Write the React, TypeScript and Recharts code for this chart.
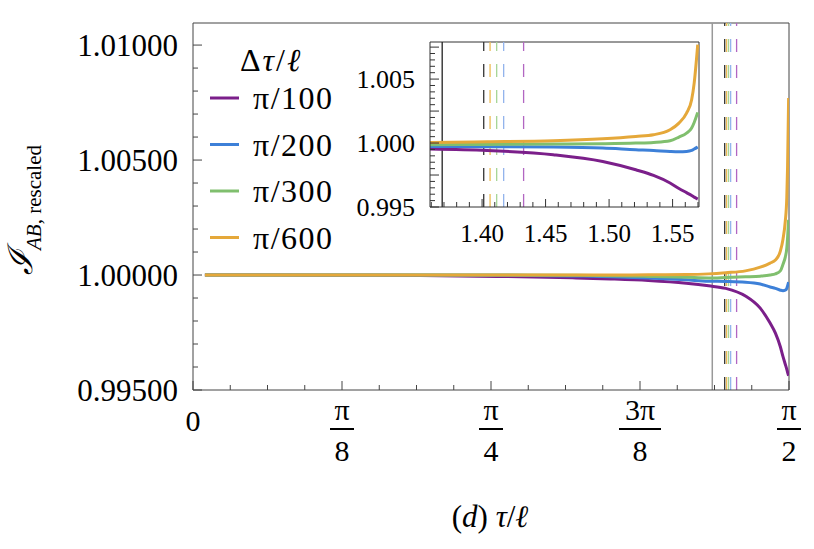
import React from "react";
import { LineChart, Line, XAxis, YAxis, ReferenceLine, Legend, Label } from "recharts";

const SERIF = "'Liberation Serif', 'DejaVu Serif', serif";

// sample points of tau/l
const tau = [0.0314, 0.2, 0.4, 0.6, 0.8, 1.0, 1.1, 1.2, 1.3, 1.359, 1.404, 1.456, 1.495, 1.521, 1.535, 1.548, 1.555, 1.561, 1.565, 1.567, 1.5698];
const pi100 = [1.0, 1.0, 0.99999, 0.99998, 0.99994, 0.99988, 0.99983, 0.99976, 0.99964, 0.99953, 0.99942, 0.99909, 0.99856, 0.99791, 0.99747, 0.99688, 0.99645, 0.99612, 0.9959, 0.99577, 0.99562];
const pi200 = [1.0, 1.0, 1.0, 1.0, 0.99999, 0.99996, 0.99993, 0.99987, 0.99979, 0.99973, 0.99972, 0.99969, 0.99961, 0.99948, 0.99942, 0.99934, 0.99932, 0.99934, 0.99942, 0.99953, 0.99969];
const pi300 = [1.0, 1.0, 1.0, 1.0, 1.0, 0.99999, 0.99997, 0.99994, 0.9999, 0.99987, 0.99989, 0.99992, 0.99995, 1.0, 1.00005, 1.00018, 1.00047, 1.00078, 1.00117, 1.00161, 1.0024];
const pi600 = [1.0, 1.0, 1.0, 1.0, 1.0, 1.0, 1.0, 1.00001, 1.00002, 1.00005, 1.0001, 1.00018, 1.00034, 1.00052, 1.00065, 1.00104, 1.00156, 1.00234, 1.00338, 1.00469, 1.0077];

const seriesKeys = ["s100", "s200", "s300", "s600"];
const seriesNames = ["π/100", "π/200", "π/300", "π/600"];
const seriesColors = ["#7b1f8a", "#3d80d8", "#80bf6e", "#e5a83a"];

// dashed vertical markers
const markerTau = [1.4013, 1.4063, 1.4115, 1.417, 1.4327];
const markerColors = ["#333333", "#ecbc55", "#a6d596", "#93b4ec", "#b266c2"];

const insetStart = 1.359;
const insetAxisTau = 1.3686;
const TAU_MAX = Math.PI / 2;
const MAIN_Y_TOP = 1.01096;
const INSET_Y_TOP = 1.0079;

const xFractions = [
  { num: "0", den: "" },
  { num: "π", den: "8" },
  { num: "π", den: "4" },
  { num: "3π", den: "8" },
  { num: "π", den: "2" },
];

const data = tau.map((t, i) => ({ tau: t, s100: pi100[i], s200: pi200[i], s300: pi300[i], s600: pi600[i] }));
const insetData = data.filter((d) => d.tau >= insetStart);

const mainXTicks = Array.from({ length: 17 }, (_, k) => (k * Math.PI) / 32);
const mainYTicks = Array.from({ length: 16 }, (_, k) => +(0.995 + k * 0.001).toFixed(3));
const insetXTicks = Array.from({ length: 22 }, (_, k) => (136 + k) / 100);
const insetYTicks = Array.from({ length: 26 }, (_, k) => +(0.995 + k * 0.0005).toFixed(4));

const MainXTick = (props: any) => {
  const { x, y, payload } = props;
  const k = Math.round(payload.value / (Math.PI / 32));
  const major = k % 4 === 0;
  const f = major ? xFractions[k / 4] : null;
  return (
    <g>
      <line x1={x} x2={x} y1={y} y2={y - (major ? 9 : 5)} stroke="#444" />
      {f && f.den === "" && (
        <text x={x} y={y + 41} textAnchor="middle" fontSize={30} fontFamily={SERIF}>{f.num}</text>
      )}
      {f && f.den !== "" && (
        <g>
          <text x={x} y={y + 30} textAnchor="middle" fontSize={30} fontFamily={SERIF}>{f.num}</text>
          <line x1={x - (f.num.length > 1 ? 21 : 12)} x2={x + (f.num.length > 1 ? 21 : 12)} y1={y + 39} y2={y + 39} stroke="#000" strokeWidth={2} />
          <text x={x} y={y + 71} textAnchor="middle" fontSize={30} fontFamily={SERIF}>{f.den}</text>
        </g>
      )}
    </g>
  );
};

const MainYTick = (props: any) => {
  const { x, y, payload } = props;
  const k = Math.round((payload.value - 0.995) / 0.001);
  const major = k % 5 === 0;
  return (
    <g>
      <line x1={x} x2={x + (major ? 9 : 5)} y1={y} y2={y} stroke="#444" />
      {major && (
        <text x={x - 15} y={y} dy="0.36em" textAnchor="end" fontSize={31} fontFamily={SERIF}>
          {payload.value.toFixed(5)}
        </text>
      )}
    </g>
  );
};

const InsetXTick = (props: any) => {
  const { x, y, payload } = props;
  const k = Math.round(payload.value * 100);
  const major = k % 5 === 0;
  return (
    <g>
      <line x1={x} x2={x} y1={y} y2={y - (major ? 8 : 5)} stroke="#333" />
      {major && (
        <text x={x} y={y + 35} textAnchor="middle" fontSize={25} fontFamily={SERIF}>
          {payload.value.toFixed(2)}
        </text>
      )}
    </g>
  );
};

const InsetYTick = (props: any) => {
  const { x, y, payload } = props;
  const k = Math.round((payload.value - 0.995) / 0.0005);
  const major = k % 5 === 0;
  return (
    <g>
      <line x1={x} x2={x + (major ? 9 : 5)} y1={y} y2={y} stroke="#333" />
      {k % 10 === 0 && (
        <text x={x - 15} y={y} dy="0.36em" textAnchor="end" fontSize={26} fontFamily={SERIF}>
          {payload.value.toFixed(3)}
        </text>
      )}
    </g>
  );
};

const LegendBox = () => (
  <svg width={150} height={230} style={{ display: "block" }}>
    <text x={40} y={36} fontSize={32} fontFamily={SERIF} letterSpacing={2}>
      Δ<tspan fontStyle="italic">τ</tspan>/<tspan fontStyle="italic">ℓ</tspan>
    </text>
    {seriesNames.map((n, i) => (
      <g key={n}>
        <line x1={10} x2={39} y1={63 + i * 46.5} y2={63 + i * 46.5} stroke={seriesColors[i]} strokeWidth={3} />
        <text x={53} y={74 + i * 46.5} fontSize={32} fontFamily={SERIF} letterSpacing={1.5}>{n}</text>
      </g>
    ))}
  </svg>
);

export default function App() {
  return (
    <div style={{ position: "absolute", left: 0, top: 0, width: 814, height: 549, background: "#fff" }}>
      <LineChart width={814} height={549} data={data} margin={{ top: 23, right: 25, bottom: 158, left: 192 }}>
        <XAxis
          dataKey="tau"
          type="number"
          domain={[0, TAU_MAX]}
          ticks={mainXTicks}
          interval={0}
          height={1}
          tickSize={0}
          tickMargin={0}
          tickLine={false}
          tick={<MainXTick />}
          axisLine={{ stroke: "#444" }}
          allowDataOverflow
        >
          <Label
            content={() => (
              <text x={490} y={527} textAnchor="middle" fontSize={31} fontFamily={SERIF}>
                (<tspan fontStyle="italic">d</tspan>) <tspan fontStyle="italic">τ</tspan>/<tspan fontStyle="italic">ℓ</tspan>
              </text>
            )}
          />
        </XAxis>
        <YAxis
          type="number"
          domain={[0.995, MAIN_Y_TOP]}
          ticks={mainYTicks}
          interval={0}
          width={1}
          tickSize={0}
          tickMargin={0}
          tickLine={false}
          tick={<MainYTick />}
          axisLine={{ stroke: "#444" }}
          allowDataOverflow
        >
          <Label
            content={() => (
              <text transform="translate(32,210) rotate(-90)" textAnchor="middle" fontFamily={SERIF}>
                <tspan fontSize={34} fontStyle="italic">ℐ</tspan>
                <tspan fontSize={21} fontStyle="italic" dy={9}>AB</tspan>
                <tspan fontSize={21}>, rescaled</tspan>
              </text>
            )}
          />
        </YAxis>
        <ReferenceLine x={TAU_MAX} stroke="#444" ifOverflow="visible" />
        <ReferenceLine y={MAIN_Y_TOP} stroke="#444" ifOverflow="visible" />
        <ReferenceLine x={insetAxisTau} stroke="#999" strokeWidth={1.5} />
        {markerTau.map((t, i) => (
          <ReferenceLine key={t} x={t} stroke={markerColors[i]} strokeWidth={1.3} strokeDasharray="13 13" />
        ))}
        {seriesKeys.map((k, i) => (
          <Line key={k} type="monotone" dataKey={k} stroke={seriesColors[i]} strokeWidth={3} dot={false} isAnimationActive={false} />
        ))}
        <Legend
          layout="vertical"
          align="center"
          verticalAlign="middle"
          content={<LegendBox />}
          wrapperStyle={{ position: "absolute", left: 200, top: 35, width: 150, height: 230 }}
        />
      </LineChart>

      <div style={{ position: "absolute", left: 340, top: 30 }}>
        <LineChart width={370} height={230} data={insetData} margin={{ top: 12, right: 11, bottom: 52, left: 89 }}>
          <XAxis
            dataKey="tau"
            type="number"
            domain={[insetStart, TAU_MAX]}
            ticks={insetXTicks}
            interval={0}
            height={1}
            tickSize={0}
            tickMargin={0}
            tickLine={false}
            tick={<InsetXTick />}
            axisLine={{ stroke: "#333" }}
            allowDataOverflow
          />
          <YAxis
            type="number"
            domain={[0.995, INSET_Y_TOP]}
            ticks={insetYTicks}
            interval={0}
            width={1}
            tickSize={0}
            tickMargin={0}
            tickLine={false}
            tick={<InsetYTick />}
            axisLine={{ stroke: "#333" }}
            allowDataOverflow
          />
          <ReferenceLine x={TAU_MAX} stroke="#333" ifOverflow="visible" />
          <ReferenceLine y={INSET_Y_TOP} stroke="#333" ifOverflow="visible" />
          <ReferenceLine x={insetAxisTau} stroke="#222" strokeWidth={1.3} />
          {markerTau.map((t, i) => (
            <ReferenceLine key={t} x={t} stroke={markerColors[i]} strokeWidth={1.3} strokeDasharray="13 13" />
          ))}
          {seriesKeys.map((k, i) => (
            <Line key={k} type="monotone" dataKey={k} stroke={seriesColors[i]} strokeWidth={3} dot={false} isAnimationActive={false} />
          ))}
        </LineChart>
      </div>
    </div>
  );
}
